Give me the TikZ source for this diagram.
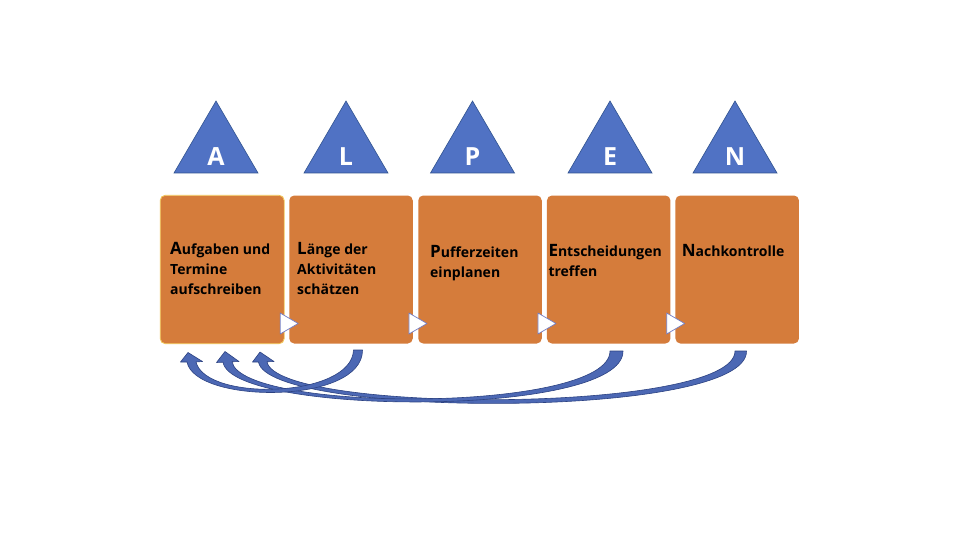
\documentclass[tikz,border=0pt]{standalone}
\usepackage{fontspec}
\setmainfont{Open Sans}
\definecolor{boxorange}{RGB}{213,124,59}
\definecolor{triblue}{RGB}{80,114,196}
\definecolor{triedge}{RGB}{47,82,143}
\definecolor{arrblue}{RGB}{76,104,180}
\definecolor{arredge}{RGB}{44,66,130}
\definecolor{boxedge}{RGB}{240,195,80}
\definecolor{chevedge}{RGB}{115,125,195}
\newcommand\bigini[1]{{\fontsize{17}{20}\selectfont #1}}
\begin{document}
\begin{tikzpicture}[x=1pt,y=-1pt,
 stepbox/.style={fill=boxorange, draw=none, rounded corners=5pt, minimum width=123.5pt, minimum height=148pt, inner sep=0pt},
 letter/.style={text=white, font=\fontsize{25}{25}\selectfont\bfseries, anchor=base, inner sep=0pt},
 boxtext/.style={anchor=base west, inner sep=0pt, font=\fontsize{14}{20}\selectfont\bfseries, text=black},
 tri/.style={fill=triblue, draw=triedge, line width=0.6pt},
 chev/.style={fill=white, draw=chevedge, line width=0.7pt, line join=round},
 curvearrow/.style={fill=arrblue, draw=arredge, line width=0.6pt, line join=round}]
\fill[white] (0,0) rectangle (960,540);
\useasboundingbox (0,0) rectangle (960,540);
% triangles with letters
\foreach \cx/\l/\n in {216/A/la, 346/L/ll, 472.5/P/lp, 610/E/le, 735/N/ln}{
  \draw[tri] (\cx-42,173) -- (\cx,101) -- (\cx+42,173) -- cycle;
  \node[letter] (\n) at (\cx,166) {\l};
}
% boxes
\node[stepbox] (b1) at (222.2,269.5) {};
\node[stepbox] (b2) at (351,269.5) {};
\node[stepbox] (b3) at (480,269.5) {};
\node[stepbox] (b4) at (608.7,269.5) {};
\node[stepbox] (b5) at (737.2,269.5) {};
\draw[boxedge, line width=0.8pt, rounded corners=5pt] (b1.north west) rectangle (b1.south east);
% texts
\node[boxtext] (t1) at (170,254.5) {\parbox[t]{125pt}{\raggedright\bigini{A}ufgaben und\\Termine\\aufschreiben}};
\node[boxtext] (t2) at (297,254.5) {\parbox[t]{125pt}{\raggedright\bigini{L}änge der\\Aktivitäten\\schätzen}};
\node[boxtext] (t3) at (430,257.5) {\parbox[t]{125pt}{\raggedright\bigini{P}ufferzeiten\\einplanen}};
\node[boxtext] (t4) at (548.3,256) {\parbox[t]{125pt}{\raggedright\bigini{E}ntscheidungen\\treffen}};
\node[boxtext] (t5) at (681.7,256) {\parbox[t]{125pt}{\raggedright\bigini{N}achkontrolle}};
% chevrons
\foreach \b in {b1,b2,b3,b4}{
  \draw[chev] (\b.east) ++(-4,43.5) -- ++(0,21) -- ++(18,-10.5) -- cycle;
}
% curved block arrows
\draw[curvearrow] (746.5,351) .. controls (748,420) and (268,418) .. (258.5,362)
  -- (252.5,362) -- (260,352) -- (274,361.5) -- (267,361.8)
  .. controls (277,414) and (735,414) .. (735,351) -- cycle;
\draw[curvearrow] (623,351) .. controls (624,418) and (232,416) .. (223,362.2)
  -- (216.5,362.5) -- (225,351.5) -- (239,361.5) -- (232,361.8)
  .. controls (242,413) and (610,413) .. (610,351) -- cycle;
\draw[curvearrow] (362.5,350) .. controls (363,405) and (195,404) .. (187,362)
  -- (180.5,362) -- (188,352.5) -- (202.5,361.5) -- (196,362)
  .. controls (206,402) and (352,398) .. (353.5,350) -- cycle;
\end{tikzpicture}
\end{document}
